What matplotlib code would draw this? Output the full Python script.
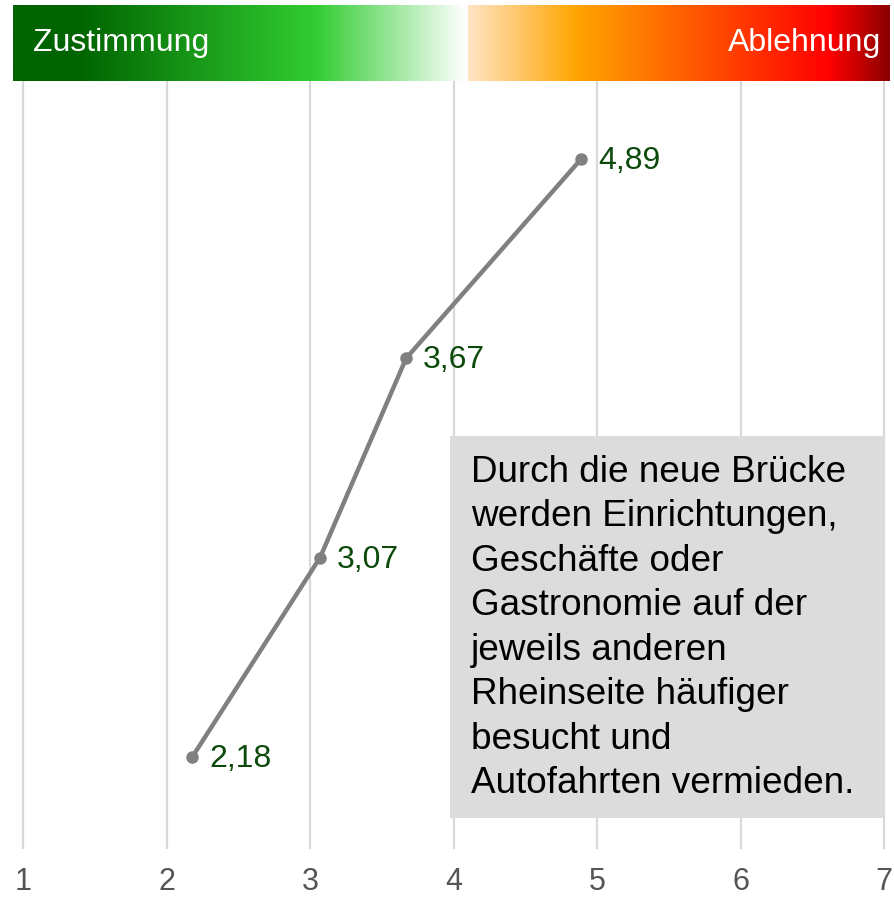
import numpy as np
import matplotlib
matplotlib.use("Agg")
import matplotlib.pyplot as plt
from matplotlib.colors import LinearSegmentedColormap
from matplotlib.patches import Rectangle

plt.rcParams['font.family'] = ['Liberation Sans', 'DejaVu Sans']

# ---- data ----
values = [2.18, 3.07, 3.67, 4.89]
labels = ["2,18", "3,07", "3,67", "4,89"]
rows = [0, 1, 2, 3]
xticks = [1, 2, 3, 4, 5, 6, 7]
statement = ("Durch die neue Brücke\nwerden Einrichtungen,\nGeschäfte oder\n"
             "Gastronomie auf der\njeweils anderen\nRheinseite häufiger\n"
             "besucht und\nAutofahrten vermieden.")
left_label = "Zustimmung"
right_label = "Ablehnung"

W, H = 894, 898
fig = plt.figure(figsize=(W / 100, H / 100), dpi=100)

def fx(px):
    return px / W

def fy(py):
    return 1 - py / H

# main axes
ax = fig.add_axes([fx(23), fy(848), fx(884) - fx(23), fy(82) - fy(848)])
ax.set_xlim(1, 7)
ax.set_ylim(-0.457, 3.386)
for s in ax.spines.values():
    s.set_visible(False)
ax.set_yticks([])
ax.set_xticks(xticks)
ax.set_xticklabels([str(t) for t in xticks], fontsize=22, color="#555555")
ax.tick_params(axis='x', length=0, pad=14)
for t in xticks:
    ax.axvline(t, color="#d9d9d9", lw=1.6, zorder=0, clip_on=False)

ax.plot(values, rows, color="#808080", lw=3.2, marker='o', ms=8, zorder=3)
for v, r, lab in zip(values, rows, labels):
    ax.annotate(lab, (v, r), xytext=(17, -2), textcoords='offset pixels',
                ha='left', va='center', fontsize=23, color="#0b4a0b")

# statement box
fig.add_artist(Rectangle((fx(450), fy(818)), fx(884) - fx(450), fy(436) - fy(818),
                         transform=fig.transFigure, facecolor="#dcdcdc",
                         edgecolor='none', zorder=5))
fig.text(fx(471), fy(455), statement, ha='left', va='top', fontsize=26.6,
         color="black", linespacing=1.35, zorder=6)

# gradient header
green = LinearSegmentedColormap.from_list(
    "g", [(0, "#006400"), (0.14, "#006400"), (0.67, "#32cd32"), (1, "#ffffff")])
red = LinearSegmentedColormap.from_list(
    "r", [(0, "#ffe4c4"), (0.256, "#ffa500"), (0.858, "#ff0000"), (1, "#8b0000")])
grad = np.linspace(0, 1, 512).reshape(1, -1)

axg = fig.add_axes([fx(13), fy(81), fx(466) - fx(13), fy(5) - fy(81)])
axg.imshow(grad, cmap=green, aspect='auto')
axg.axis('off')
axg.text(0.044, 0.5, left_label, transform=axg.transAxes, ha='left', va='center',
         fontsize=23, color='white')

axr = fig.add_axes([fx(468), fy(81), fx(890) - fx(468), fy(5) - fy(81)])
axr.imshow(grad, cmap=red, aspect='auto')
axr.axis('off')
axr.text(0.978, 0.5, right_label, transform=axr.transAxes, ha='right', va='center',
         fontsize=23, color='white')

fig.savefig("out.png", dpi=100)
